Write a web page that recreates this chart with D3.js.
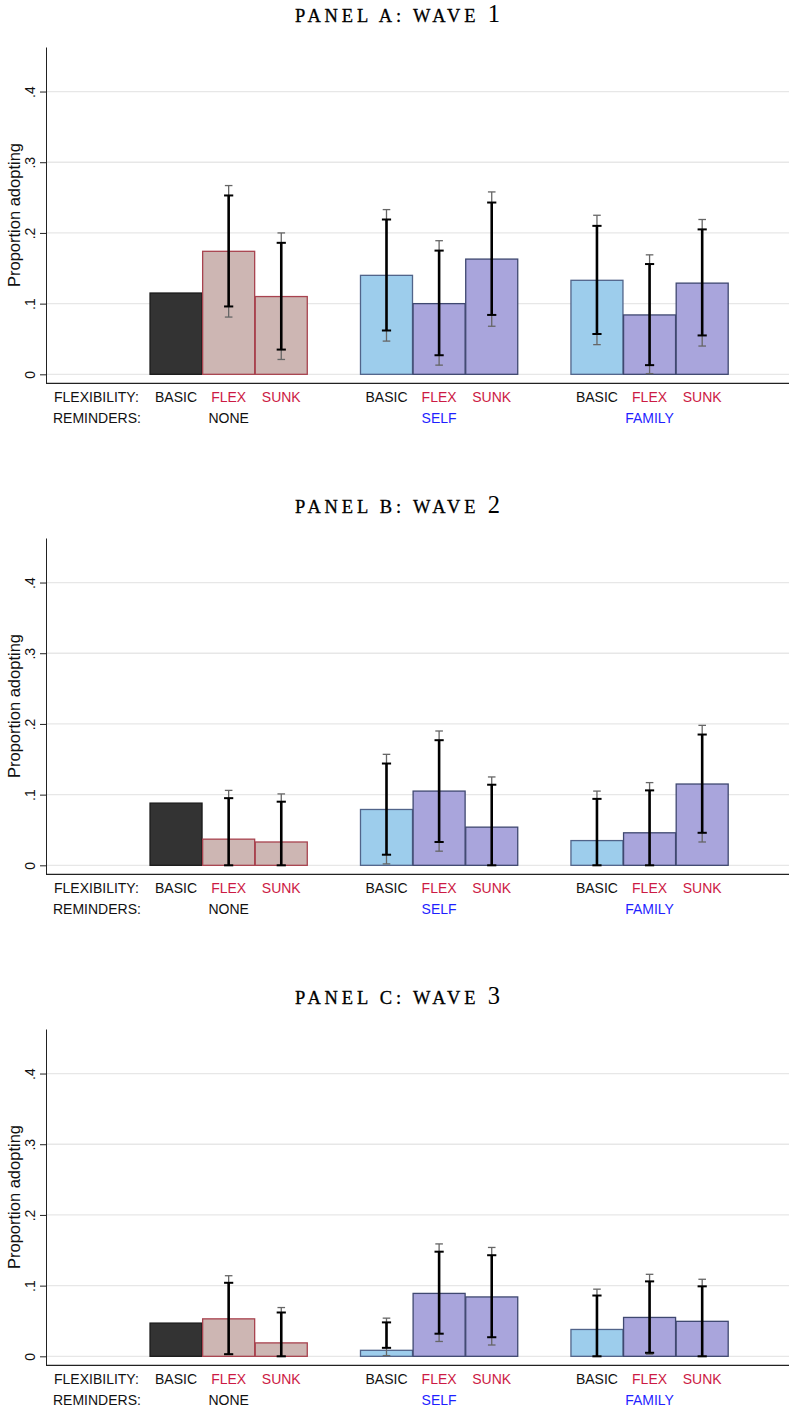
<!DOCTYPE html>
<html>
<head>
<meta charset="utf-8">
<script src="https://cdn.jsdelivr.net/npm/d3@7"></script>
<style>
  html, body { margin: 0; padding: 0; background: #fff; }
  svg { display: block; }
  text { font-family: "Liberation Sans", Arial, sans-serif; }
</style>
</head>
<body>
<svg id="chart" width="789" height="1410"></svg>
<script>
// Treatment arms: three flexibility options within each reminder group
const flexibility = ["BASIC", "FLEX", "SUNK"];
const reminders = ["NONE", "SELF", "FAMILY"];
const panelTitles = ["PANEL A: WAVE ", "PANEL B: WAVE ", "PANEL C: WAVE "];
const waveNumbers = ["1", "2", "3"];
const yTicks = [0, 0.1, 0.2, 0.3, 0.4];

// Proportion adopting, ordered NONE(BASIC,FLEX,SUNK), SELF(...), FAMILY(...)
const wave1Means = [0.115, 0.174, 0.110, 0.140, 0.100, 0.163, 0.133, 0.084, 0.129];
const wave1Ci90Lo = [null, 0.096, 0.035, 0.062, 0.027, 0.084, 0.057, 0.013, 0.055];
const wave1Ci90Hi = [null, 0.253, 0.186, 0.219, 0.175, 0.243, 0.210, 0.156, 0.205];
const wave1Ci95Lo = [null, 0.081, 0.021, 0.047, 0.013, 0.068, 0.042, 0.001, 0.040];
const wave1Ci95Hi = [null, 0.267, 0.200, 0.233, 0.189, 0.258, 0.225, 0.169, 0.219];

const wave2Means = [0.088, 0.037, 0.033, 0.079, 0.105, 0.054, 0.035, 0.046, 0.115];
const wave2Ci90Lo = [null, 0.000, 0.000, 0.015, 0.033, 0.000, 0.000, 0.000, 0.046];
const wave2Ci90Hi = [null, 0.095, 0.090, 0.144, 0.177, 0.114, 0.094, 0.106, 0.185];
const wave2Ci95Lo = [null, 0.000, 0.000, 0.002, 0.020, 0.000, 0.000, 0.000, 0.033];
const wave2Ci95Hi = [null, 0.106, 0.101, 0.157, 0.190, 0.125, 0.105, 0.117, 0.198];

const wave3Means = [0.047, 0.053, 0.019, 0.0085, 0.089, 0.084, 0.038, 0.055, 0.0495];
const wave3Ci90Lo = [null, 0.003, 0.000, 0.012, 0.032, 0.027, 0.000, 0.005, 0.000];
const wave3Ci90Hi = [null, 0.104, 0.062, 0.048, 0.148, 0.143, 0.086, 0.106, 0.099];
const wave3Ci95Lo = [null, 0.003, 0.000, 0.001, 0.021, 0.016, 0.000, 0.003, 0.000];
const wave3Ci95Hi = [null, 0.114, 0.069, 0.054, 0.159, 0.154, 0.095, 0.116, 0.109];

const waves = [
  { means: wave1Means, lo90: wave1Ci90Lo, hi90: wave1Ci90Hi, lo95: wave1Ci95Lo, hi95: wave1Ci95Hi },
  { means: wave2Means, lo90: wave2Ci90Lo, hi90: wave2Ci90Hi, lo95: wave2Ci95Lo, hi95: wave2Ci95Hi },
  { means: wave3Means, lo90: wave3Ci90Lo, hi90: wave3Ci90Hi, lo95: wave3Ci95Lo, hi95: wave3Ci95Hi }
];

// Styling
const fills = {
  control: "#333333", noneArm: "#cdb6b3", basic: "#9dcdec", arm: "#a9a5dc"
};
const strokes = {
  control: "#1a1a1a", noneArm: "#a8434f", basic: "#51648a", arm: "#3f4870"
};
const armRed = "#cc1a44";
const groupBlue = "#1f1fff";

const W = 789;
const panelStep = 491;
const plotLeft = 46;
const svg = d3.select("#chart");

// Horizontal position: one unit per bar, a one-bar gap between reminder groups
const x = d3.scaleLinear().domain([-2.5, 11.65]).range([44.5, W]);
const barW = (x(1) - x(0)) - 0.6;

const bars = [];
reminders.forEach((r, g) => {
  flexibility.forEach((f, j) => {
    bars.push({ reminder: r, flex: f, pos: g * 4 + j, idx: g * 3 + j });
  });
});

function barStyle(b) {
  if (b.reminder === "NONE") return b.flex === "BASIC" ? "control" : "noneArm";
  return b.flex === "BASIC" ? "basic" : "arm";
}

waves.forEach((w, p) => {
  const oy = p * panelStep;
  const y = d3.scaleLinear().domain([-0.0127, 0.463]).range([oy + 383.3, oy + 47]);
  const g = svg.append("g");

  // Title: capital words with a larger wave number
  const title = g.append("text")
    .attr("x", 397.5).attr("y", oy + 22)
    .attr("text-anchor", "middle")
    .attr("textLength", 205).attr("lengthAdjust", "spacing")
    .style("font-family", "'Liberation Serif', 'DejaVu Serif', serif")
    .attr("fill", "#000").attr("stroke", "#000").attr("stroke-width", 0.3);
  title.append("tspan").attr("font-size", 18.5).text(panelTitles[p]);
  title.append("tspan").attr("font-size", 24.5).attr("stroke-width", 0).text(waveNumbers[p]);

  // Gridlines
  g.append("g").selectAll("line").data(yTicks).join("line")
    .attr("x1", plotLeft).attr("x2", W)
    .attr("y1", d => y(d)).attr("y2", d => y(d))
    .attr("stroke", "#e7e7e7").attr("stroke-width", 1.3);

  // Bars
  g.append("g").selectAll("rect").data(bars).join("rect")
    .attr("x", b => x(b.pos) - barW / 2)
    .attr("width", barW)
    .attr("y", b => y(w.means[b.idx]))
    .attr("height", b => y(0) - y(w.means[b.idx]))
    .attr("fill", b => fills[barStyle(b)])
    .attr("stroke", b => strokes[barStyle(b)])
    .attr("stroke-width", 1.3);

  const withCi = bars.filter(b => w.hi90[b.idx] !== null);

  // 95% intervals: thin grey whiskers
  const ci95 = g.append("g").attr("stroke", "#666").attr("stroke-width", 1.3);
  ci95.selectAll("line.v").data(withCi).join("line").attr("class", "v")
    .attr("x1", b => x(b.pos)).attr("x2", b => x(b.pos))
    .attr("y1", b => y(w.lo95[b.idx])).attr("y2", b => y(w.hi95[b.idx]));
  ["lo95", "hi95"].forEach(k => {
    ci95.selectAll("line." + k).data(withCi).join("line").attr("class", k)
      .attr("x1", b => x(b.pos) - 3.8).attr("x2", b => x(b.pos) + 3.8)
      .attr("y1", b => y(w[k][b.idx])).attr("y2", b => y(w[k][b.idx]));
  });

  // 90% intervals: heavy black whiskers
  const ci90 = g.append("g").attr("stroke", "#000");
  ci90.selectAll("line.v").data(withCi).join("line").attr("class", "v")
    .attr("stroke-width", 2.6)
    .attr("x1", b => x(b.pos)).attr("x2", b => x(b.pos))
    .attr("y1", b => y(w.lo90[b.idx])).attr("y2", b => y(w.hi90[b.idx]));
  ["lo90", "hi90"].forEach(k => {
    ci90.selectAll("line." + k).data(withCi).join("line").attr("class", k)
      .attr("stroke-width", 2)
      .attr("x1", b => x(b.pos) - 4.6).attr("x2", b => x(b.pos) + 4.6)
      .attr("y1", b => y(w[k][b.idx])).attr("y2", b => y(w[k][b.idx]));
  });

  // Y axis
  const yAxis = g.append("g").attr("transform", `translate(${plotLeft},0)`)
    .call(d3.axisLeft(y).tickValues(yTicks).tickSize(6).tickSizeOuter(0)
      .tickFormat(d => d === 0 ? "0" : d3.format(".1f")(d).replace(/^0/, "")));
  yAxis.select(".domain").attr("stroke", "#222");
  yAxis.selectAll(".tick line").attr("stroke", "#222");
  yAxis.selectAll(".tick text")
    .attr("transform", "rotate(-90)")
    .attr("x", 0).attr("y", -11).attr("dy", null)
    .attr("text-anchor", "middle")
    .attr("font-size", 14).attr("fill", "#111")
    .style("font-family", "'Liberation Sans', Arial, sans-serif");

  g.append("text")
    .attr("transform", `translate(19.5,${oy + 215}) rotate(-90)`)
    .attr("text-anchor", "middle").attr("font-size", 16.5).attr("fill", "#111")
    .text("Proportion adopting");

  // X axis baseline
  g.append("line")
    .attr("x1", plotLeft).attr("x2", W)
    .attr("y1", y(-0.0127)).attr("y2", y(-0.0127))
    .attr("stroke", "#222").attr("stroke-width", 1.2);

  // Category labels
  g.append("text").attr("x", 54).attr("y", oy + 401.5)
    .attr("font-size", 14).attr("fill", "#111").text("FLEXIBILITY:");
  g.append("text").attr("x", 53).attr("y", oy + 422.5)
    .attr("font-size", 14).attr("fill", "#111").text("REMINDERS:");

  g.append("g").selectAll("text").data(bars).join("text")
    .attr("x", b => x(b.pos)).attr("y", oy + 401.5)
    .attr("text-anchor", "middle").attr("font-size", 14)
    .attr("fill", b => b.flex === "BASIC" ? "#111" : armRed)
    .text(b => b.flex);

  g.append("g").selectAll("text").data(reminders).join("text")
    .attr("x", (r, i) => x(i * 4 + 1)).attr("y", oy + 422.5)
    .attr("text-anchor", "middle").attr("font-size", 14)
    .attr("fill", r => r === "NONE" ? "#111" : groupBlue)
    .text(r => r);
});
</script>
</body>
</html>
